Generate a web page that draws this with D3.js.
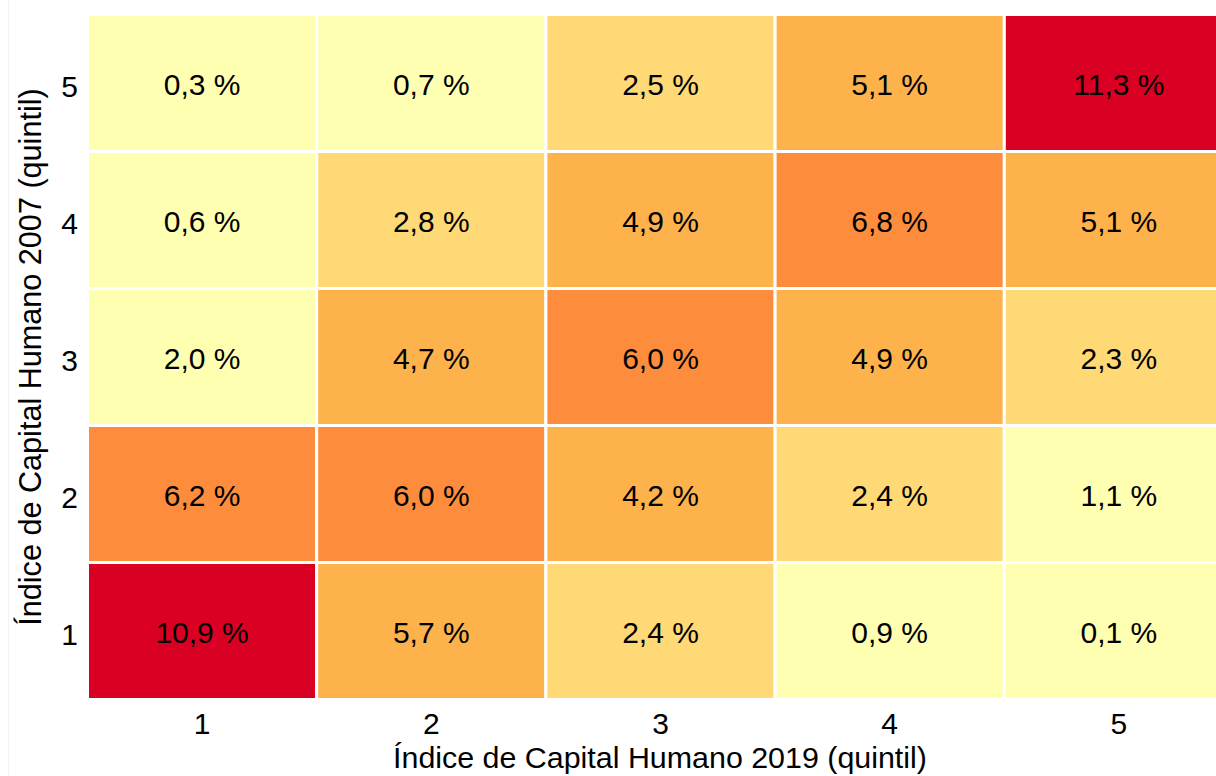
<!DOCTYPE html>
<html>
<head>
<meta charset="utf-8">
<script src="https://cdn.jsdelivr.net/npm/d3@7"></script>
<style>
  html, body { margin: 0; padding: 0; background: #fff; }
  svg { display: block; font-family: "Liberation Sans", Arial, sans-serif; }
</style>
</head>
<body>
<div id="chart"></div>
<script>
// quintiles (same labels on both axes)
const quintiles = ["1", "2", "3", "4", "5"];

// share of people, % -- one array per 2007 quintil, values by 2019 quintil 1..5
const row2007_1 = [10.9, 5.7, 2.4, 0.9, 0.1];
const row2007_2 = [6.2, 6.0, 4.2, 2.4, 1.1];
const row2007_3 = [2.0, 4.7, 6.0, 4.9, 2.3];
const row2007_4 = [0.6, 2.8, 4.9, 6.8, 5.1];
const row2007_5 = [0.3, 0.7, 2.5, 5.1, 11.3];

const xTitle = "Índice de Capital Humano 2019 (quintil)";
const yTitle = "Índice de Capital Humano 2007 (quintil)";

// SET SIZES
const width = 1216;
const height = 776;

// BUILD CELL TABLE
const rows = [row2007_1, row2007_2, row2007_3, row2007_4, row2007_5];
const cells = [];
rows.forEach(function (vals, i) {
    vals.forEach(function (v, j) {
        cells.push({ y: quintiles[i], x: quintiles[j], value: v });
    });
});

// SCALES
const x = d3.scaleBand().domain(quintiles).range([87.5, 1233.5]);
const y = d3.scaleBand().domain(quintiles).range([699.5, 14.5]);

const color = d3.scaleThreshold()
    .domain([2.2, 4, 6, 9])
    .range(["#FFFFB2", "#FED976", "#FEB24C", "#FD8D3C", "#DA0024"]);

const fmt = function (v) { return d3.format(".1f")(v).replace(".", ",") + " %"; };

// SETUP SVG
const svg = d3.select("#chart")
    .append("svg")
    .attr("width", width)
    .attr("height", height);

// faint page edge
svg.append("line")
    .attr("x1", 8.5).attr("x2", 8.5)
    .attr("y1", 0).attr("y2", height)
    .attr("stroke", "#f3f3f3");

// TILES
svg.selectAll(".tile")
    .data(cells)
    .enter().append("rect")
    .attr("class", "tile")
    .attr("x", function (d) { return x(d.x); })
    .attr("y", function (d) { return y(d.y); })
    .attr("width", x.bandwidth())
    .attr("height", y.bandwidth())
    .attr("fill", function (d) { return color(d.value); })
    .attr("stroke", "#fff")
    .attr("stroke-width", 3);

// CELL LABELS
svg.selectAll(".lab")
    .data(cells)
    .enter().append("text")
    .attr("class", "lab")
    .attr("x", function (d) { return x(d.x) + x.bandwidth() / 2; })
    .attr("y", function (d) { return y(d.y) + y.bandwidth() / 2 + 12; })
    .attr("text-anchor", "middle")
    .attr("font-size", 30)
    .attr("fill", "#000")
    .text(function (d) { return fmt(d.value); });

// AXES
const xAxis = svg.append("g")
    .attr("transform", "translate(0,700)")
    .call(d3.axisBottom(x).tickSize(0).tickPadding(34));
const yAxis = svg.append("g")
    .attr("transform", "translate(88,0)")
    .call(d3.axisLeft(y).tickSize(0).tickPadding(10));

[xAxis, yAxis].forEach(function (g) {
    g.select(".domain").remove();
    g.selectAll("text")
        .attr("font-size", 30)
        .attr("font-family", "Liberation Sans, Arial, sans-serif")
        .attr("fill", "#000");
});
yAxis.selectAll("text").attr("dy", "0.45em");
xAxis.selectAll("text").attr("dy", 0);

// AXIS TITLES
svg.append("text")
    .attr("x", 660)
    .attr("y", 768)
    .attr("text-anchor", "middle")
    .attr("font-size", 30.4)
    .attr("fill", "#000")
    .text(xTitle);

svg.append("text")
    .attr("transform", "translate(41," + ((14.5 + 699.5) / 2) + ") rotate(-90)")
    .attr("text-anchor", "middle")
    .attr("font-size", 30.6)
    .attr("fill", "#000")
    .text(yTitle);
</script>
</body>
</html>
